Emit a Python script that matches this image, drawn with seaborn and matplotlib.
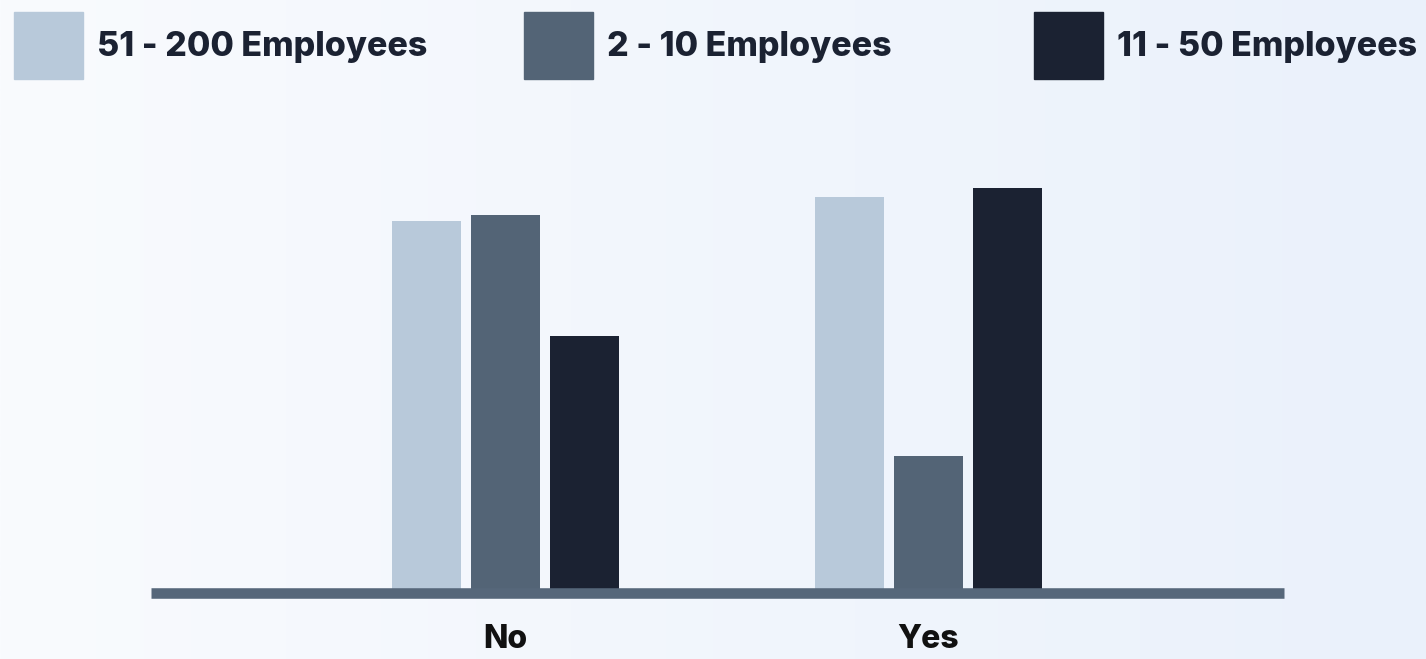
import numpy as np
import pandas as pd
import seaborn as sns
import matplotlib.pyplot as plt
from matplotlib.patches import Rectangle

# Data
answers = ["No", "Yes"]
sizes = ["51 - 200 Employees", "2 - 10 Employees", "11 - 50 Employees"]
share_51_200 = [37.2, 39.6]
share_2_10 = [37.8, 13.7]
share_11_50 = [25.7, 40.5]
colors = ["#b8c9da", "#536476", "#1b2232"]

df = pd.DataFrame({
    "answer": answers * 3,
    "size": [s for s in sizes for _ in answers],
    "share": share_51_200 + share_2_10 + share_11_50,
})

sns.set_theme(style="white")
plt.rcParams["font.family"] = ["Inter", "DejaVu Sans"]

fig = plt.figure(figsize=(14.26, 6.59), dpi=100)

# gradient background
bg = fig.add_axes([0, 0, 1, 1], zorder=-10)
grad = np.linspace(0, 1, 512).reshape(1, -1)
c0 = np.array([0xf9, 0xfb, 0xfe]) / 255
c1 = np.array([0xea, 0xf1, 0xfb]) / 255
img = c0[None, None, :] * (1 - grad[..., None]) + c1[None, None, :] * grad[..., None]
bg.imshow(img, aspect="auto", extent=[0, 1, 0, 1], interpolation="bilinear")
bg.axis("off")

W, H = 1426, 659
ax = fig.add_axes([151 / W, (H - 593) / H, (1284 - 151) / W, (593 - 100) / H])
ax.patch.set_alpha(0)

sns.barplot(data=df, x="answer", y="share", hue="size", order=answers,
            hue_order=sizes, palette=colors, width=0.562, gap=0.13,
            saturation=1, legend=False, linewidth=0, ax=ax)

ax.axhline(0, color="#56677a", lw=7.6, solid_capstyle="butt", zorder=5,
           clip_on=False)
ax.set_xlim(-0.839, 1.841)
ax.set_ylim(0, 49.3)
ax.set_xlabel("")
ax.set_ylabel("")
ax.set_yticks([])
for s in ax.spines.values():
    s.set_visible(False)
ax.tick_params(axis="x", length=0, pad=22, labelsize=23, colors="#111111")
for t in ax.get_xticklabels():
    t.set_fontweight("heavy")

# legend: squares and labels at fixed slots
legend_x = [14, 524, 1034]
for x0, lab, col in zip(legend_x, sizes, colors):
    fig.patches.append(Rectangle((x0 / W, (H - 79) / H), 69 / W, 67 / H,
                                 transform=fig.transFigure, color=col))
    fig.text((x0 + 83) / W, (H - 47) / H, lab, fontsize=24.5, fontweight="heavy",
             color="#1b2232", va="center", ha="left")

fig.savefig("out.png", dpi=100)
